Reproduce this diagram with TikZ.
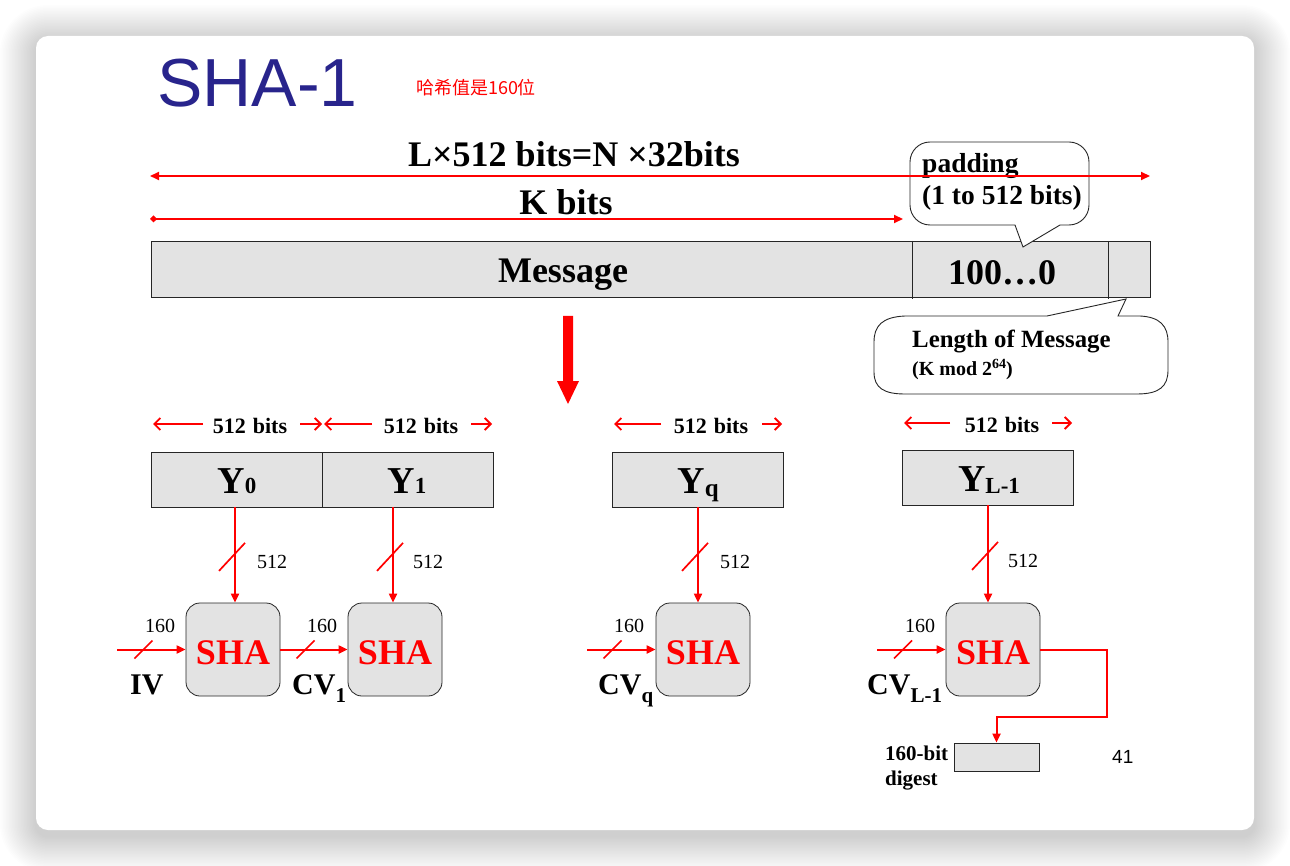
\documentclass[tikz,border=0pt]{standalone}
\usepackage{fontspec}
\setmainfont{Liberation Serif}
\newfontfamily\arialfont{Liberation Sans}
\newfontfamily\cjkfont{Noto Sans CJK SC}
\usetikzlibrary{arrows.meta,calc}
\newcommand\fs[1]{\fontsize{#1}{#1}\selectfont}
\definecolor{slideblue}{RGB}{40,36,140}
\definecolor{boxgray}{RGB}{227,227,227}
\definecolor{sred}{RGB}{255,0,0}
\tikzset{
  redline/.style={draw=sred, line width=2pt},
  redarrow/.style={redline, -{Triangle[length=9pt,width=8pt]}},
  bitsarrow/.style={draw=sred, line width=1.8pt, -{Straight Barb[length=6pt,width=12pt,line width=1.8pt]}},
  slashmark/.style={draw=sred, line width=1.7pt},
  grayblock/.style={draw=black!85, line width=0.8pt, fill=boxgray, inner sep=0pt},
  yblock/.style={grayblock, minimum width=171pt, minimum height=55pt},
  shabox/.style={grayblock, rounded corners=14pt, minimum width=94pt, minimum height=93pt},
  bigtxt/.style={font=\bfseries\fs{36}, inner sep=0pt, anchor=base},
  calltxt/.style={font=\bfseries\fs{27.5}, inner sep=0pt, anchor=base west},
  bitstxt/.style={font=\bfseries\fs{22}, inner sep=0pt, anchor=base},
  numtxt/.style={font=\fs{20}, inner sep=0pt, anchor=base west},
  shatxt/.style={font=\bfseries\fs{36}, text=sred, inner sep=0pt, anchor=base},
  cvtxt/.style={font=\bfseries\fs{30}, inner sep=0pt, anchor=base west},
  callout/.style={draw=black!85, line width=0.9pt, fill=white},
}
\begin{document}
\begin{tikzpicture}[x=1pt,y=-1pt]
\useasboundingbox (0,0) rectangle (1290,866);

% slide card with soft drop shadow
\foreach \i in {1,...,24}{
  \fill[black, opacity=0.009, rounded corners={12pt+\i*1.5pt}]
    (36-\i*1.5, 41-\i*1.5) rectangle (1254+\i*1.5, 836+\i*1.5);
}
\fill[white, rounded corners=12pt] (36,36) rectangle (1254,830);

% title
\node[font=\arialfont\fs{68}, text=slideblue, anchor=base west, inner sep=0pt] (title) at (157,107) {SHA-1};
\node[font=\cjkfont\fs{18}, text=sred, inner sep=0pt] (note) at (476,88) {哈希值是160位};

% message layout
\node[grayblock, minimum width=999pt, minimum height=56pt] (msg) at (650.5,269) {};
\draw[black!85, line width=0.8pt] (912,241) -- (912,299);
\draw[black!85, line width=0.8pt] (1108,241) -- (1108,299);
\node[bigtxt] (msgtxt) at (563,283) {Message};
\node[bigtxt] (padtxt) at (1002,285) {100…0};

% padding callout
\draw[callout] (1015,225) [rounded corners=20pt] -- (910,225) -- (910,142) -- (1089,142) -- (1089,225) [sharp corners] -- (1060,225) -- (1023,247) -- cycle;
\node[calltxt] (padding) at (922,173) {padding};
\node[calltxt] (padrange) at (922,205) {(1 to 512 bits)};

% length callout
\draw[callout] (1047,316) -- (905,316) .. controls (882,317) and (874,326) .. (874,342)
  -- (874,372) .. controls (874,388) and (884,394) .. (905,394)
  -- (1137,394) .. controls (1160,394) and (1168,386) .. (1168,370)
  -- (1168,342) .. controls (1168,326) and (1160,317) .. (1140,316)
  -- (1118,316) -- (1126,299) -- cycle;
\node[calltxt, font=\bfseries\fs{24.8}] (lenmsg) at (912,348) {Length of Message};
\node[calltxt, font=\bfseries\fs{20}] (kmod) at (912,375) {(K mod 2\raisebox{6pt}{\fs{14}64})};

% total length arrows
\coordinate (lleft) at (150,176);
\coordinate (lright) at (1150,176);
\draw[redline, {Triangle[length=9pt,width=8pt]}-{Triangle[length=9pt,width=8pt]}] (lleft) -- (lright);
\node[bigtxt] (ltxt) at (574,167) {L×512 bits=N ×32bits};
\coordinate (kleft) at (150,219);
\coordinate (kright) at (903,219);
\draw[redline, {Diamond[length=7pt,width=7pt]}-{Triangle[length=9pt,width=8pt]}] (kleft) -- (kright);
\node[bigtxt] (ktxt) at (566,215) {K bits};

% big down arrow
\fill[sred] (563,316) -- (573,316) -- (573,381) -- (579,381) -- (568,404) -- (557,381) -- (563,381) -- cycle;

% 512-bit block size arrows
\coordinate (b1l) at (153,424); \coordinate (b1la) at (203,424);
\coordinate (b1r) at (322,424); \coordinate (b1ra) at (300,424);
\draw[bitsarrow] (b1la) -- (b1l);  \draw[bitsarrow] (b1ra) -- (b1r);
\node[bitstxt] (bt1) at (250,433) {512\hspace{7pt}bits};
\coordinate (b2l) at (324,424); \coordinate (b2la) at (372,424);
\coordinate (b2r) at (492,424); \coordinate (b2ra) at (471,424);
\draw[bitsarrow] (b2la) -- (b2l);  \draw[bitsarrow] (b2ra) -- (b2r);
\node[bitstxt] (bt2) at (421,433) {512\hspace{7pt}bits};
\coordinate (b3l) at (614,424); \coordinate (b3la) at (661,424);
\coordinate (b3r) at (782,424); \coordinate (b3ra) at (762,424);
\draw[bitsarrow] (b3la) -- (b3l);  \draw[bitsarrow] (b3ra) -- (b3r);
\node[bitstxt] (bt3) at (711,433) {512\hspace{7pt}bits};
\coordinate (b4l) at (904,423); \coordinate (b4la) at (950,423);
\coordinate (b4r) at (1072,423); \coordinate (b4ra) at (1052,423);
\draw[bitsarrow] (b4la) -- (b4l);  \draw[bitsarrow] (b4ra) -- (b4r);
\node[bitstxt] (bt4) at (1002,432) {512\hspace{7pt}bits};

% message blocks
\node[yblock] (y0) at (236.5,479.5) {};
\node[yblock] (y1) at (407.5,479.5) {};
\node[yblock] (yq) at (698,479.5) {};
\node[yblock] (yl) at (988,477.5) {};
\node[bigtxt, font=\bfseries\fs{38}] (y0t) at (237,493) {Y{\fs{23}0}};
\node[bigtxt, font=\bfseries\fs{38}] (y1t) at (407,493) {Y{\fs{23}1}};
\node[bigtxt, font=\bfseries\fs{38}] (yqt) at (698,493) {Y\raisebox{-3pt}{\fs{25}q}};
\node[bigtxt, font=\bfseries\fs{38}] (ylt) at (989,491) {Y\raisebox{-2pt}{\fs{23}L-1}};

% compression function boxes
\node[shabox] (sha1) at (233,649.5) {};
\node[shabox] (sha2) at (395,649.5) {};
\node[shabox] (sha3) at (703,649.5) {};
\node[shabox] (sha4) at (993,649.5) {};
\foreach \s in {sha1,sha2,sha3,sha4}{
  \node[shatxt] (\s t) at ($(\s.center)+(0,15)$) {SHA};
}

% 512-bit inputs
\foreach \y/\s/\dx in {y0/sha1/2, y1/sha2/-2, yq/sha3/-5, yl/sha4/-5}{
  \coordinate (\s top) at ($(\s.north)+(\dx,0)$);
  \draw[redarrow] (\s top |- \y.south) -- (\s top);
  \coordinate (\s mid) at ($(\s top |- \y.south)!0.52!(\s top)$);
  \draw[slashmark] ($(\s mid)+(-16,14)$) -- ($(\s mid)+(10,-14)$);
}
\node[numtxt] (n512a) at (257,568) {512};
\node[numtxt] (n512b) at (413,568) {512};
\node[numtxt] (n512c) at (720,568) {512};
\node[numtxt] (n512d) at (1008,567) {512};

% chaining inputs
\coordinate (ivin) at (117,649.5);
\coordinate (cvqin) at (587,649.5);
\coordinate (cvlin) at (877,649.5);
\draw[redarrow] (ivin) -- (sha1.west);
\draw[redarrow] (sha1.east) -- (sha2.west);
\draw[redarrow] (cvqin) -- (sha3.west);
\draw[redarrow] (cvlin) -- (sha4.west);
\foreach \x in {143.5,305.5,612.5,903}{
  \draw[slashmark] (\x-9,658.5) -- (\x+9,640.5);
}
\node[numtxt] (c160a) at (145,632) {160};
\node[numtxt] (c160b) at (307,632) {160};
\node[numtxt] (c160c) at (614,632) {160};
\node[numtxt] (c160d) at (905,632) {160};
\node[cvtxt] (iv) at (130,694) {IV};
\node[cvtxt] (cv1) at (292,694) {CV\raisebox{-8pt}{\fs{21}1}};
\node[cvtxt] (cvq) at (598,694) {CV\raisebox{-8pt}{\fs{21}q}};
\node[cvtxt] (cvl) at (867,694) {CV\raisebox{-8pt}{\fs{21}L-1}};

% output digest
\node[grayblock, minimum width=85pt, minimum height=28pt] (digest) at (996.5,757) {};
\coordinate (turn) at (1107,717);
\draw[redarrow] (sha4.east) -| (turn) -| (digest.north);
\node[numtxt, font=\bfseries\fs{21}] (dg1) at (885,760) {160-bit};
\node[numtxt, font=\bfseries\fs{21}] (dg2) at (885,785) {digest};

% page number
\node[font=\arialfont\fs{19}, inner sep=0pt, anchor=base west] (pagenum) at (1112,763) {41};
\end{tikzpicture}
\end{document}
